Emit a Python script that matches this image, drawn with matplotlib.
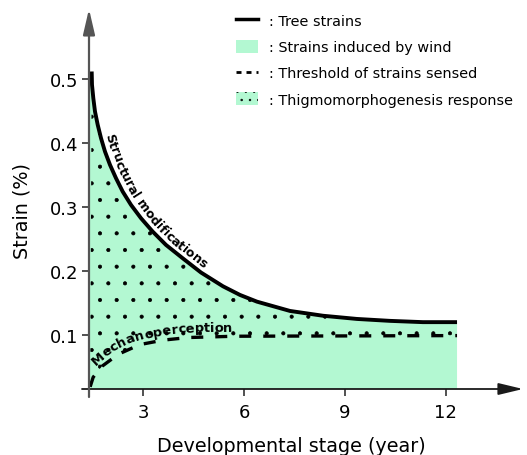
import numpy as np
import matplotlib
matplotlib.use('Agg')
import matplotlib.pyplot as plt
from matplotlib.lines import Line2D
from matplotlib.patches import Patch
from matplotlib.font_manager import FontProperties

# Tree strains curve
tree_x = [1.476, 1.485, 1.524, 1.574, 1.655, 1.753, 1.871, 2.020, 2.198, 2.397,
          2.644, 2.941, 3.288, 3.683, 4.179, 4.723, 5.376, 5.881, 6.386, 7.366,
          8.346, 9.356, 10.336, 11.316, 12.33]
tree_y = [0.5114, 0.4906, 0.4698, 0.4489, 0.4281, 0.4073, 0.3864, 0.3656, 0.3448,
          0.3239, 0.3031, 0.2823, 0.2614, 0.2406, 0.2198, 0.1975, 0.176, 0.1625,
          0.152, 0.1375, 0.130, 0.125, 0.122, 0.120, 0.120]

# Threshold of strains sensed
thr_x = [1.43, 1.52, 1.78, 2.27, 2.91, 3.61, 4.35, 5.05, 5.73, 12.33]
thr_y = [0.019, 0.034, 0.051, 0.070, 0.085, 0.092, 0.096, 0.097, 0.098, 0.099]

x_ticks = [3, 6, 9, 12]
y_ticks = [0.1, 0.2, 0.3, 0.4, 0.5]

legend_labels = [': Tree strains', ': Strains induced by wind',
                 ': Threshold of strains sensed', ': Thigmomorphogenesis response']

GREEN = '#b3f8d2'
XMIN, XMAX = 1.396, 14.29
YMIN, YMAX = 0.0156, 0.609

plt.rcParams['hatch.linewidth'] = 0.5


def text_on_curve(ax, xs, ys, text, start, gap, size, win=10):
    """Write text letter by letter along a curve, shifted by gap pixels."""
    renderer = ax.figure.canvas.get_renderer()
    prop = FontProperties(family='DejaVu Sans', weight='bold', size=size)
    pts = ax.transData.transform(np.column_stack([xs, ys]))
    arc = np.r_[0, np.cumsum(np.hypot(*np.diff(pts, axis=0).T))]
    # resample in pixels (only used to place the letters)
    s = np.arange(0, arc[-1], 0.5)
    line = np.column_stack([np.interp(s, arc, pts[:, 0]), np.interp(s, arc, pts[:, 1])])
    w = int(win / 0.5)
    ahead = line[np.minimum(np.arange(len(s)) + w, len(s) - 1)]
    back = line[np.maximum(np.arange(len(s)) - w, 0)]
    tang = ahead - back
    tang /= np.hypot(tang[:, 0], tang[:, 1])[:, None]
    normal = np.column_stack([-tang[:, 1], tang[:, 0]])
    base = line + normal * gap
    barc = np.r_[0, np.cumsum(np.hypot(*np.diff(base, axis=0).T))]
    s0 = barc[np.searchsorted(s, start)]

    def width(t):
        return renderer.get_text_width_height_descent(t, prop, ismath=False)[0]

    inv = ax.transData.inverted()
    for i, ch in enumerate(text):
        if ch == ' ':
            continue
        c = s0 + width(text[:i + 1]) - width(ch) / 2
        k = min(np.searchsorted(barc, c), len(barc) - 1)
        q = inv.transform(base[k])
        ang = np.degrees(np.arctan2(tang[k, 1], tang[k, 0]))
        ax.text(q[0], q[1], ch, rotation=ang, rotation_mode='anchor',
                ha='center', va='baseline', fontproperties=prop, zorder=6)


fig = plt.figure(figsize=(5.27, 4.56), dpi=100)
ax = fig.add_axes([89 / 527, 66 / 456, 434 / 527, 380 / 456])
ax.set_xlim(XMIN, XMAX)
ax.set_ylim(YMIN, YMAX)
for sp in ax.spines.values():
    sp.set_visible(False)

# strains induced by wind
ax.fill_between(np.r_[XMIN, tree_x], np.r_[tree_y[2], tree_y], YMIN,
                facecolor=GREEN, edgecolor='none', zorder=1)
# thigmomorphogenesis response (dotted zone)
ax.fill(np.r_[tree_x, thr_x[::-1]], np.r_[tree_y, thr_y[::-1]],
        facecolor='none', edgecolor='black', linewidth=0, hatch='.', zorder=2)

ax.plot(tree_x, tree_y, color='black', lw=2.8, solid_capstyle='butt', zorder=4)
ax.plot(thr_x, thr_y, color='black', lw=2.4, dashes=(3.6, 3.6), zorder=4)

# axes with arrows
ax.annotate('', xy=(1, 0), xytext=(-7 / 434, 0), xycoords='axes fraction',
            arrowprops=dict(arrowstyle='-|>,head_length=1.5,head_width=0.36',
                            lw=1.3, color='#1a1a1a', mutation_scale=10,
                            shrinkA=0, shrinkB=0), zorder=5)
ax.annotate('', xy=(0, 1), xytext=(0, -8 / 380), xycoords='axes fraction',
            arrowprops=dict(arrowstyle='-|>,head_length=1.55,head_width=0.36',
                            lw=1.6, color='#555555', mutation_scale=10,
                            shrinkA=0, shrinkB=0), zorder=5)

ax.set_xticks(x_ticks)
ax.set_xticklabels([str(v) for v in x_ticks])
ax.set_yticks(y_ticks)
ax.set_yticklabels([str(v) for v in y_ticks])
ax.tick_params(axis='both', direction='out', length=5, width=1.2,
               color='#333333', labelsize=13)
ax.tick_params(axis='x', pad=5)
ax.tick_params(axis='y', pad=3)

ax.text(-0.154, 0.47, 'Strain (%)', transform=ax.transAxes, rotation=90,
        ha='center', va='center', fontsize=13.8)
ax.text(0.467, -0.15, 'Developmental stage (year)', transform=ax.transAxes,
        ha='center', va='center', fontsize=13.8)

text_on_curve(ax, tree_x, tree_y, 'Structural modifications', start=64, gap=5.5, size=9)
text_on_curve(ax, thr_x, thr_y, 'Mechanoperception', start=21, gap=6, size=9.4, win=14)

handles = [Line2D([], [], color='black', lw=2.5),
           Patch(facecolor=GREEN, edgecolor='none'),
           Line2D([], [], color='black', lw=2, linestyle=(0, (1.8, 1.8))),
           Patch(facecolor=GREEN, edgecolor='black', linewidth=0, hatch='..')]
fig.legend(handles, legend_labels, loc='upper left',
           bbox_to_anchor=(236 / 527, 1 - 14.6 / 456), frameon=False,
           fontsize=10.4, borderpad=0, borderaxespad=0, handlelength=1.52,
           handleheight=0.97, handletextpad=0.75, labelspacing=0.83)

fig.savefig('out.png', dpi=100)
